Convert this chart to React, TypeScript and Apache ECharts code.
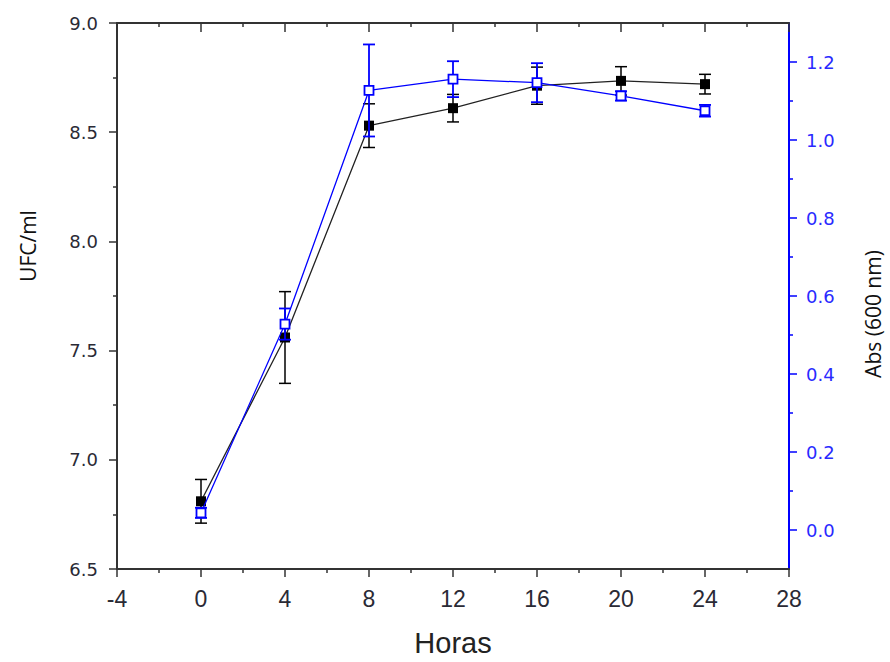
import React, { useEffect, useRef } from "react";
import * as echarts from "echarts";

const hours = [0, 4, 8, 12, 16, 20, 24];
const ufc = [6.81, 7.56, 8.53, 8.61, 8.713, 8.735, 8.72];
const ufcErr = [0.1, 0.21, 0.1, 0.063, 0.085, 0.065, 0.045];
const abs = [0.044, 0.528, 1.127, 1.156, 1.147, 1.113, 1.075];
const absErr = [0.013, 0.04, 0.118, 0.046, 0.05, 0.012, 0.015];

const absMajorTicks = [0, 0.2, 0.4, 0.6, 0.8, 1.0, 1.2];
const absMinorTicks = [0.1, 0.3, 0.5, 0.7, 0.9, 1.1];

const DARK = "#2a2a35";
const BLUE = "#0000ff";

function errSeries(name: string, vals: number[], errs: number[], color: string, yAxisIndex: number, width: number, z: number) {
  return {
    type: "custom",
    name,
    xAxisIndex: 0,
    yAxisIndex,
    z,
    data: hours.map((h, i) => [h, vals[i] - errs[i], vals[i] + errs[i]]),
    encode: { x: 0, y: [1, 2] },
    renderItem: (params: any, api: any) => {
      const x = api.value(0);
      const lo = api.coord([x, api.value(1)]);
      const hi = api.coord([x, api.value(2)]);
      const hw = 6;
      const style = { stroke: color, lineWidth: width, fill: null };
      return {
        type: "group",
        children: [
          { type: "line", shape: { x1: lo[0], y1: lo[1], x2: hi[0], y2: hi[1] }, style },
          { type: "line", shape: { x1: lo[0] - hw, y1: lo[1], x2: lo[0] + hw, y2: lo[1] }, style },
          { type: "line", shape: { x1: hi[0] - hw, y1: hi[1], x2: hi[0] + hw, y2: hi[1] }, style },
        ],
      };
    },
  };
}

export default function App() {
  const ref = useRef<HTMLDivElement>(null);
  useEffect(() => {
    if (!ref.current) return;
    const chart = echarts.init(ref.current, null, { renderer: "svg" });
    const axisLineDark = { show: true, onZero: false, lineStyle: { color: "#333", width: 2 } };
    const tickDark = { lineStyle: { color: "#333", width: 1.5 } };
    const option: any = {
      animation: false,
      backgroundColor: "#ffffff",
      textStyle: { fontFamily: "Liberation Sans" },
      grid: { left: 117, right: 101, top: 23, bottom: 89, containLabel: false },
      graphic: [
        {
          type: "text",
          x: 28,
          y: 246,
          rotation: Math.PI / 2,
          style: {
            text: "UFC/ml",
            fontFamily: "Open Sans",
            fontSize: 21,
            fill: "#111",
            textAlign: "center",
            textVerticalAlign: "middle",
          },
        },
        {
          type: "text",
          x: 873,
          y: 314,
          rotation: Math.PI / 2,
          style: {
            text: "Abs (600 nm)",
            fontFamily: "Open Sans",
            fontSize: 21,
            fill: "#111",
            textAlign: "center",
            textVerticalAlign: "middle",
          },
        },
      ],
      xAxis: [
        {
          type: "value",
          position: "bottom",
          min: -4,
          max: 28,
          interval: 4,
          axisLine: axisLineDark,
          axisTick: { show: true, length: 8, ...tickDark },
          minorTick: { show: true, splitNumber: 2, length: 4, ...tickDark },
          splitLine: { show: false },
          axisLabel: {
            margin: 18,
            color: DARK,
            fontFamily: "Liberation Sans",
            fontSize: 23,
            formatter: (v: number) => String(v),
          },
          name: "Horas",
          nameLocation: "middle",
          nameGap: 59,
          nameTextStyle: { fontFamily: "Liberation Sans", fontSize: 29, color: "#222" },
        },
        {
          type: "value",
          position: "top",
          min: -4,
          max: 28,
          interval: 4,
          axisLine: axisLineDark,
          axisTick: { show: true, inside: true, length: 9, ...tickDark },
          minorTick: { show: true, splitNumber: 2, length: 4, ...tickDark },
          splitLine: { show: false },
          axisLabel: { show: false },
        },
      ],
      yAxis: [
        {
          type: "value",
          position: "left",
          min: 6.5,
          max: 9,
          interval: 0.5,
          axisLine: axisLineDark,
          axisTick: { show: true, length: 8, ...tickDark },
          minorTick: { show: true, splitNumber: 2, length: 4, ...tickDark },
          splitLine: { show: false },
          axisLabel: {
            margin: 19,
            color: DARK,
            fontFamily: "DejaVu Sans",
            fontSize: 18,
            formatter: (v: number) => v.toFixed(1),
          },
        },
        {
          type: "value",
          position: "right",
          min: -0.1,
          max: 1.3,
          axisLine: { show: true, onZero: false, lineStyle: { color: BLUE, width: 2 } },
          axisTick: { show: true, length: 8, customValues: absMajorTicks, lineStyle: { color: BLUE, width: 1.5 } },
          splitLine: { show: false },
          axisLabel: {
            margin: 17,
            color: "#2a2aff",
            fontFamily: "DejaVu Sans",
            fontSize: 18,
            customValues: absMajorTicks,
            formatter: (v: number) => v.toFixed(1),
          },
        },
        {
          type: "value",
          position: "right",
          min: -0.1,
          max: 1.3,
          axisLine: { show: false, onZero: false },
          axisTick: { show: true, length: 4, customValues: absMinorTicks, lineStyle: { color: BLUE, width: 1.5 } },
          splitLine: { show: false },
          axisLabel: { show: false },
        },
      ],
      series: [
        errSeries("ufcErr", ufc, ufcErr, "#000", 0, 1.5, 1),
        {
          type: "line",
          name: "UFC/ml",
          xAxisIndex: 0,
          yAxisIndex: 0,
          z: 2,
          data: hours.map((h, i) => [h, ufc[i]]),
          symbol: "rect",
          symbolSize: 10,
          itemStyle: { color: "#000" },
          lineStyle: { color: "#222", width: 1.3 },
        },
        errSeries("absErr", abs, absErr, BLUE, 1, 1.8, 3),
        {
          type: "line",
          name: "Abs",
          xAxisIndex: 0,
          yAxisIndex: 1,
          z: 4,
          data: hours.map((h, i) => [h, abs[i]]),
          symbol: "rect",
          symbolSize: 9,
          itemStyle: { color: "#fff", borderColor: BLUE, borderWidth: 1.8 },
          lineStyle: { color: BLUE, width: 1.3 },
        },
      ],
    };
    chart.setOption(option);
    return () => chart.dispose();
  }, []);
  return <div ref={ref} style={{ position: "absolute", left: 0, top: 0, width: 890, height: 662, background: "#fff" }} />;
}
